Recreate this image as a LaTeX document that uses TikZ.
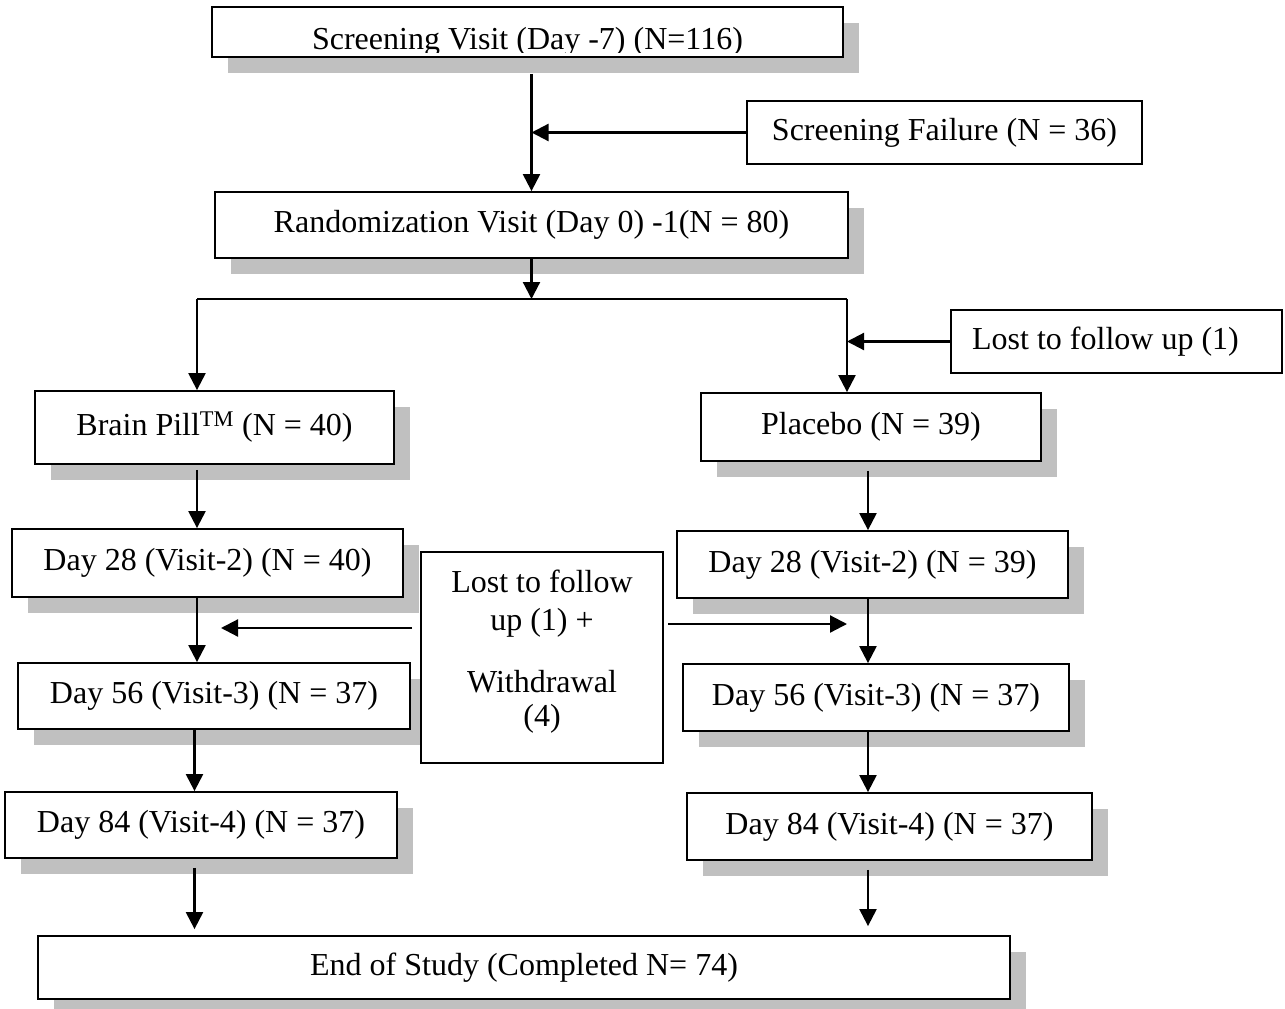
\documentclass[tikz,border=0pt]{standalone}
\usepackage{fontspec}
\setmainfont{Liberation Serif}
\usetikzlibrary{arrows.meta,shadows}
\definecolor{shgray}{HTML}{C0C0C0}
\begin{document}
\begin{tikzpicture}[x=1pt,y=-1pt,
  txt/.style={font=\fontsize{32}{36}\selectfont, inner sep=0pt},
  plainbox/.style={draw, line width=1.8pt, fill=white, inner sep=0pt, txt},
  box/.style={plainbox, general shadow={fill=shgray, shadow xshift=16pt, shadow yshift=-16pt}},
  arr/.style={line width=2.2pt, -{Triangle[length=17pt 0,width=17pt 0]}},
  ln/.style={line width=2.2pt}]
\fill[white] (0,0) rectangle (1285,1009);
\useasboundingbox (0,0) rectangle (1285,1009);

% nodes
\node[box, minimum width=631pt, minimum height=50pt] (scr) at (527.5,32) {};
\begin{scope}
  \clip (213,8) rectangle (842,52);
  \node[txt, anchor=base] (scrtxt) at (527.5,49) {Screening Visit (Day -7) (N=116)};
\end{scope}
\node[plainbox, minimum width=395pt, minimum height=63pt] (sf) at (944.5,132.5) {Screening Failure (N = 36)};
\node[box, minimum width=633pt, minimum height=66pt] (rnd) at (531.5,225) {Randomization Visit (Day 0) -1(N = 80)};
\node[plainbox, minimum width=331pt, minimum height=63pt] (lost) at (1116.5,341.5) {Lost to follow up (1)\hspace*{22pt}};
\node[box, minimum width=359pt, minimum height=73pt] (brain) at (214.5,427.5) {Brain Pill\textsuperscript{TM} (N = 40)};
\node[box, minimum width=340pt, minimum height=68pt] (plac) at (871,427) {Placebo (N = 39)};
\node[box, minimum width=391pt, minimum height=68pt] (d28l) at (207.5,563) {Day 28 (Visit-2) (N = 40)};
\node[box, minimum width=391pt, minimum height=67pt] (d28r) at (872.5,564.5) {Day 28 (Visit-2) (N = 39)};
\node[box, minimum width=392pt, minimum height=66pt] (d56l) at (214,696) {Day 56 (Visit-3) (N = 37)};
\node[box, minimum width=386pt, minimum height=67pt] (d56r) at (876,697.5) {Day 56 (Visit-3) (N = 37)};
\node[plainbox, minimum width=242pt, minimum height=211pt] (mid) at (542,657.5) {};
\node[txt, align=center] (midtxt) at (542,651.5) {Lost to follow\\[2pt]up (1) +\\[26pt]Withdrawal\\[-2pt](4)};
\node[box, minimum width=392pt, minimum height=66pt] (d84l) at (201,825) {Day 84 (Visit-4) (N = 37)};
\node[box, minimum width=405pt, minimum height=67pt] (d84r) at (889.5,826.5) {Day 84 (Visit-4) (N = 37)};
\node[box, minimum width=972pt, minimum height=63pt] (end) at (524,967.5) {End of Study (Completed N= 74)};

% helper coordinates
\coordinate (split) at (531.5,299);
\coordinate (bl) at (197,299);
\coordinate (br) at (847,299);
\coordinate (cR) at (868,0);
\coordinate (cL) at (194.5,0);
\coordinate (mL1) at (412,628);
\coordinate (mL2) at (221,628);
\coordinate (mR1) at (668,624);
\coordinate (mR2) at (847,624);

% connectors
\draw[arr] ([yshift=-16pt]scr.south -| rnd.north) -- (rnd.north);
\draw[arr] (sf.west) -- (sf.west -| rnd.north);
\draw[arr] (rnd.south) -- (split);
\draw[ln] (bl) -- (br);
\draw[arr] (bl) -- (bl |- brain.north);
\draw[arr] (br) -- (br |- plac.north);
\draw[arr] (lost.west) -- (lost.west -| br);
\draw[arr] ([yshift=-5pt]brain.south -| bl) -- (bl |- d28l.north);
\draw[arr] ([yshift=-9pt]plac.south -| cR) -- (cR |- d28r.north);
\draw[arr] (d28l.south -| bl) -- (bl |- d56l.north);
\draw[arr] (d28r.south -| cR) -- (cR |- d56r.north);
\draw[arr] (d56l.south -| cL) -- (cL |- d84l.north);
\draw[arr] (d56r.south -| cR) -- (cR |- d84r.north);
\draw[arr] ([yshift=-9pt]d84l.south -| cL) -- ([yshift=6pt]end.north -| cL);
\draw[arr] ([yshift=-9pt]d84r.south -| cR) -- ([yshift=9pt]end.north -| cR);
\draw[arr] (mL1) -- (mL2);
\draw[arr] (mR1) -- (mR2);
\end{tikzpicture}
\end{document}
